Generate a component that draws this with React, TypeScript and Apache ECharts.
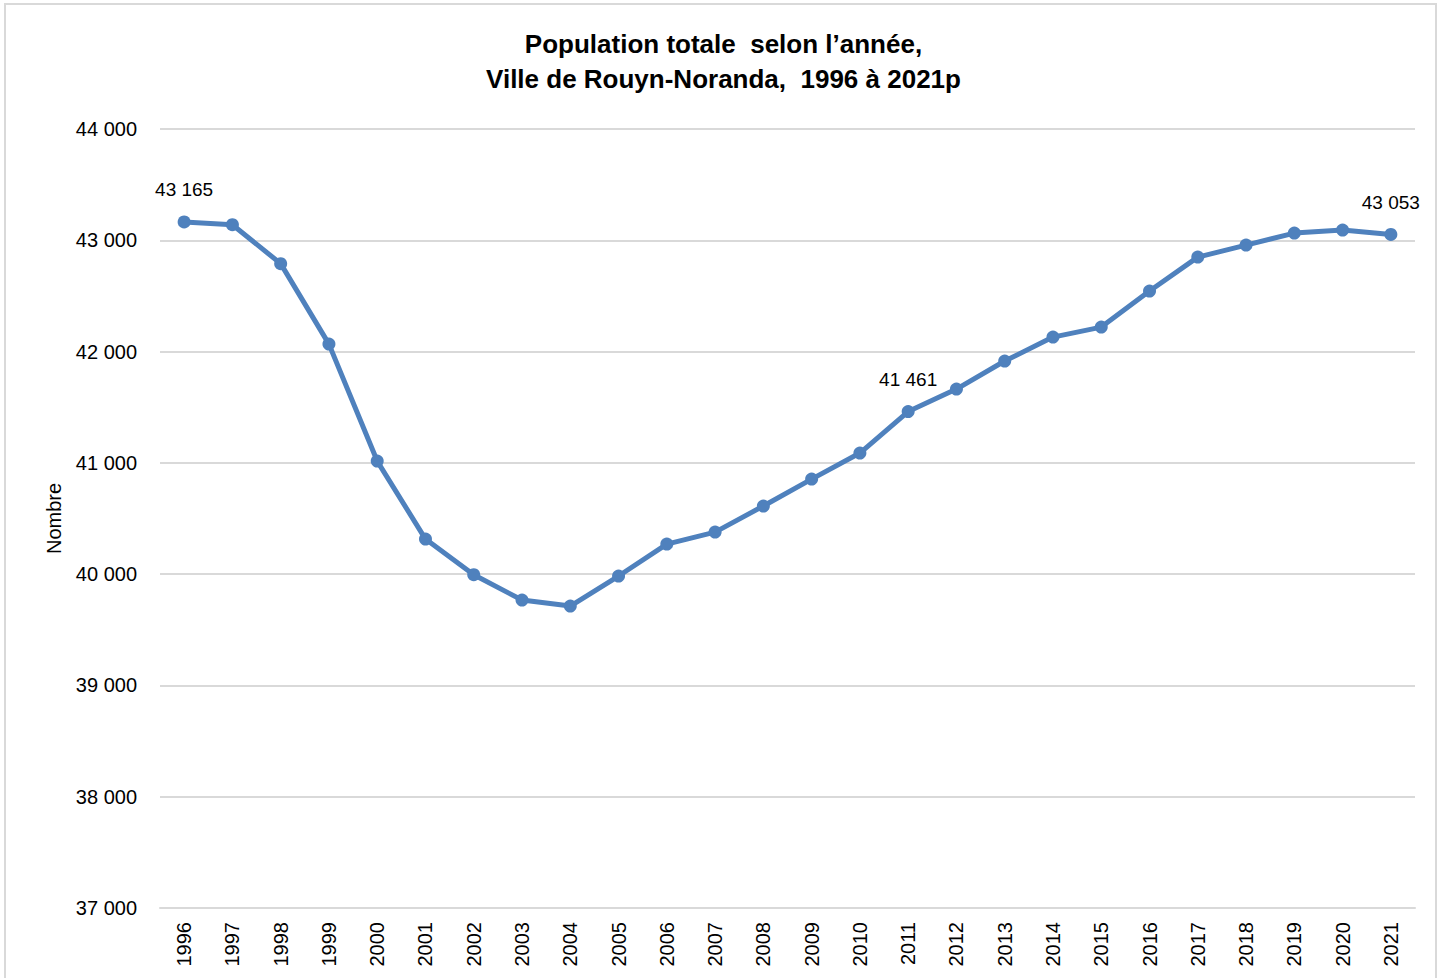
import React, { useEffect, useRef } from "react";
import * as echarts from "echarts";

const years = ["1996","1997","1998","1999","2000","2001","2002","2003","2004","2005","2006","2007","2008","2009","2010","2011","2012","2013","2014","2015","2016","2017","2018","2019","2020","2021"];
const population = [43165,43140,42790,42067,41016,40315,39995,39767,39713,39983,40270,40378,40612,40854,41088,41461,41663,41915,42130,42220,42544,42849,42957,43065,43092,43053];
const labelledYears = ["1996", "2011", "2021"];

const FONT = "'Liberation Sans Narrow', 'Arial Narrow', 'Liberation Sans', Arial, sans-serif";

const fmt = (v: number) => {
  const s = Math.round(v).toString();
  return s.replace(/\B(?=(\d{3})+(?!\d))/g, " ");
};

export default function App() {
  const ref = useRef<HTMLDivElement>(null);
  useEffect(() => {
    if (!ref.current) return;
    const chart = echarts.init(ref.current, undefined, { renderer: "svg" });
    chart.setOption({
      animation: false,
      backgroundColor: "#ffffff",
      title: {
        text: "Population totale  selon l’année,\nVille de Rouyn-Noranda,  1996 à 2021p",
        left: "center",
        top: 21,
        textStyle: { fontFamily: FONT, fontSize: 26, fontWeight: "bold", color: "#000", lineHeight: 35 },
      },
      graphic: [
        {
          type: "rect",
          shape: { x: 5, y: 4, width: 1431, height: 990 },
          style: { fill: "none", stroke: "#d9d9d9", lineWidth: 2 },
          silent: true,
        },
      ],
      grid: { left: 160, right: 32, top: 129, bottom: 70 },
      xAxis: {
        type: "category",
        data: years,
        boundaryGap: true,
        axisLine: { show: true, lineStyle: { color: "#d9d9d9", width: 2 } },
        axisTick: { show: false },
        axisLabel: { rotate: 90, margin: 14, fontFamily: FONT, fontSize: 20, color: "#000", interval: 0 },
      },
      yAxis: {
        type: "value",
        min: 37000,
        max: 44000,
        interval: 1000,
        name: "Nombre",
        nameLocation: "middle",
        nameGap: 96,
        nameRotate: 90,
        nameTextStyle: { fontFamily: FONT, fontSize: 20, color: "#000" },
        axisLine: { show: false },
        axisTick: { show: false },
        splitLine: { lineStyle: { color: "#d9d9d9", width: 2 } },
        axisLabel: { formatter: (v: number) => fmt(v), fontFamily: FONT, fontSize: 20, color: "#000", margin: 23 },
      },
      series: [
        {
          type: "line",
          data: population.map((v, i) => ({
            value: v,
            label: {
              show: labelledYears.includes(years[i]),
              position: "top",
              distance: 16,
              formatter: (p: any) => fmt(p.value),
              fontFamily: FONT,
              fontSize: 19,
              color: "#000",
            },
          })),
          symbol: "circle",
          symbolSize: 13,
          lineStyle: { color: "#4f81bd", width: 5 },
          itemStyle: { color: "#4f81bd" },
        },
      ],
    });
    return () => chart.dispose();
  }, []);
  return (
    <div style={{ position: "absolute", left: 0, top: 0, width: 1447, height: 978 }}>
      <div ref={ref} style={{ width: 1447, height: 978 }} />
    </div>
  );
}
